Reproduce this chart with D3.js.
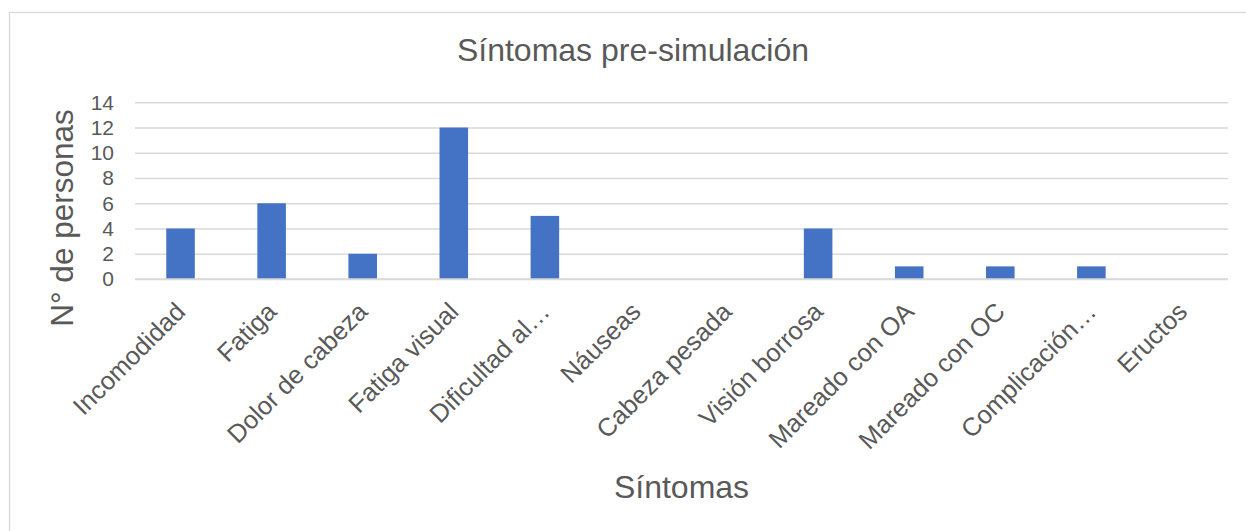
<!DOCTYPE html>
<html>
<head>
<meta charset="utf-8">
<script src="https://cdn.jsdelivr.net/npm/d3@7"></script>
<style>
  html, body { margin: 0; padding: 0; background: #fff; }
  svg { display: block; font-family: "Liberation Sans", Arial, sans-serif; }
</style>
</head>
<body>
<svg id="chart" width="1246" height="531"></svg>
<script>
// Symptoms reported before the simulation
const categories = [
  "Incomodidad", "Fatiga", "Dolor de cabeza", "Fatiga visual", "Dificultad al…",
  "Náuseas", "Cabeza pesada", "Visión borrosa", "Mareado con OA",
  "Mareado con OC", "Complicación…", "Eructos"
];
const personas = [4, 6, 2, 12, 5, 0, 0, 4, 1, 1, 1, 0];
const yTicks = [0, 2, 4, 6, 8, 10, 12, 14];

const chartTitle = "Síntomas pre-simulación";
const xTitle = "Síntomas";
const yTitle = "N° de personas";

const W = 1246, H = 531;
const plot = { left: 135, right: 1228, top: 102.3, bottom: 279 };
const textColor = "#595959";
const gridColor = "#d9d9d9";
const barColor = "#4472c4";
const gapWidth = 2.19;            // gap between bars relative to bar width
const pad = 1 - 1 / (1 + gapWidth);

const svg = d3.select("#chart");

// outer chart frame
svg.append("rect")
  .attr("x", 9.5).attr("y", 12.5)
  .attr("width", W + 10).attr("height", H + 10)
  .attr("fill", "#fff")
  .attr("stroke", gridColor).attr("stroke-width", 1.3);

const x = d3.scaleBand()
  .domain(categories)
  .range([plot.left, plot.right])
  .paddingInner(pad)
  .paddingOuter(pad / 2);

const y = d3.scaleLinear()
  .domain([0, 14])
  .range([plot.bottom, plot.top]);

// horizontal gridlines + y tick labels
const yAxis = d3.axisLeft(y)
  .tickValues(yTicks)
  .tickSize(-(plot.right - plot.left))
  .tickPadding(21)
  .tickFormat(d3.format("d"));

const gy = svg.append("g")
  .attr("transform", `translate(${plot.left},0)`)
  .call(yAxis);
gy.select(".domain").remove();
gy.selectAll(".tick line")
  .attr("stroke", gridColor).attr("stroke-width", 1.4);
gy.selectAll(".tick text")
  .attr("fill", textColor)
  .attr("font-size", 21);

// bars
svg.append("g")
  .selectAll("rect")
  .data(categories.map((c, i) => ({ c, v: personas[i] })))
  .join("rect")
  .attr("x", d => x(d.c))
  .attr("width", x.bandwidth())
  .attr("y", d => y(d.v))
  .attr("height", d => y(0) - y(d.v))
  .attr("fill", barColor);

// baseline
svg.append("line")
  .attr("x1", plot.left).attr("x2", plot.right)
  .attr("y1", y(0)).attr("y2", y(0))
  .attr("stroke", gridColor).attr("stroke-width", 1.4);

// category labels, rotated
const xAxis = d3.axisBottom(x).tickSize(0).tickPadding(0);
const gx = svg.append("g")
  .attr("transform", `translate(0,${plot.bottom})`)
  .call(xAxis);
gx.select(".domain").remove();
gx.selectAll(".tick text")
  .attr("fill", textColor)
  .attr("font-size", 25.5)
  .attr("text-anchor", "end")
  .attr("y", 0)
  .attr("dy", "0.35em")
  .attr("transform", "translate(0,28) rotate(-45)");

// chart title
svg.append("text")
  .attr("x", 633).attr("y", 61)
  .attr("text-anchor", "middle")
  .attr("fill", textColor)
  .attr("font-size", 32)
  .text(chartTitle);

// x axis title
svg.append("text")
  .attr("x", (plot.left + plot.right) / 2).attr("y", 498)
  .attr("text-anchor", "middle")
  .attr("fill", textColor)
  .attr("font-size", 32)
  .text(xTitle);

// y axis title
svg.append("text")
  .attr("transform", "translate(73,218) rotate(-90)")
  .attr("text-anchor", "middle")
  .attr("fill", textColor)
  .attr("font-size", 31.5)
  .text(yTitle);
</script>
</body>
</html>
